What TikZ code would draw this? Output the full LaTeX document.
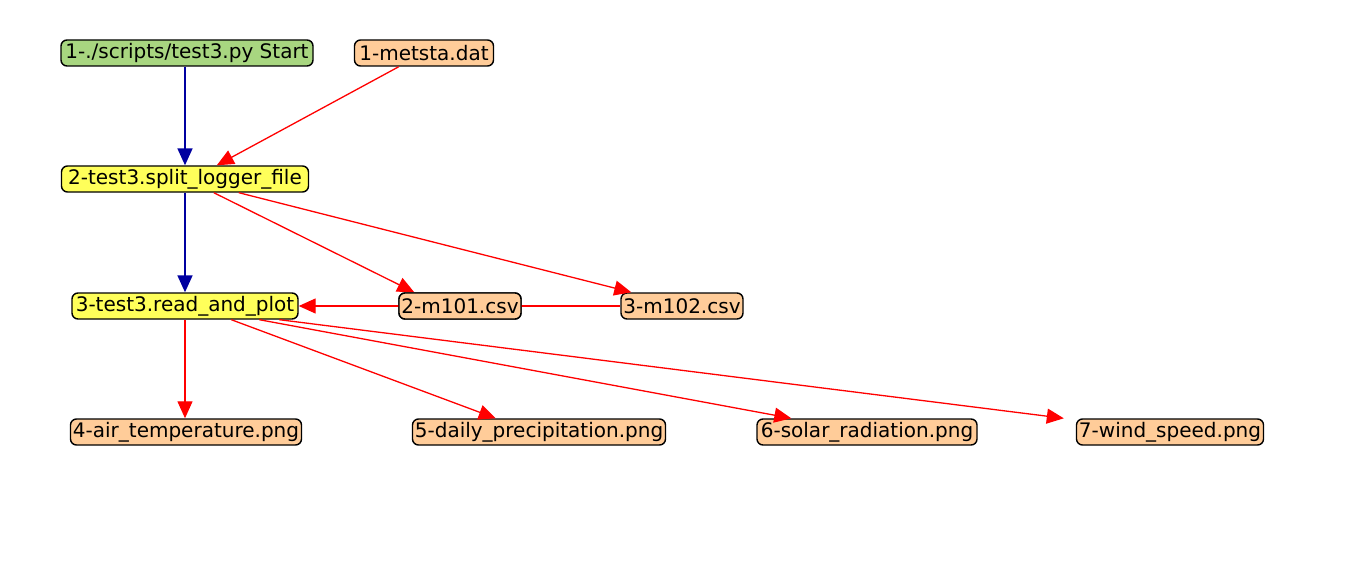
\documentclass[tikz,border=0pt]{standalone}
\usepackage{fontspec}
\setmainfont{DejaVu Sans}
\usetikzlibrary{arrows.meta,calc}
\definecolor{startgreen}{RGB}{168,214,128}
\definecolor{taskyellow}{RGB}{255,255,90}
\definecolor{filepeach}{RGB}{255,204,153}
\definecolor{flowblue}{RGB}{0,0,160}
\tikzset{
  box/.style={draw=black,line width=1.4pt,rounded corners=6pt,minimum height=26pt,
    inner sep=0pt,font=\fontsize{20}{22}\selectfont},
  startbox/.style={box,fill=startgreen},
  taskbox/.style={box,fill=taskyellow},
  filebox/.style={box,fill=filepeach},
  flow/.style={draw=flowblue,line width=1.8pt,-{Triangle[length=17pt,width=15pt]}},
  data/.style={draw=red,line width=1.3pt,-{Triangle[length=17pt,width=15pt]}}
}
\begin{document}
\begin{tikzpicture}[x=1pt,y=-1pt]
\useasboundingbox (0,0) rectangle (1356,564);

\node[startbox,minimum width=252pt] (start) at (187,53) {1-./scripts/test3.py Start};
\node[filebox,minimum width=139pt] (metsta) at (424,53) {1-metsta.dat};
\node[taskbox,minimum width=247pt] (split) at (185,179) {2-test3.split\_logger\_file};
\node[taskbox,minimum width=226pt] (readplot) at (185,306) {3-test3.read\_and\_plot};
\node[filebox,minimum width=122pt] (mOne) at (460,306) {2-m101.csv};
\node[filebox,minimum width=122pt] (mTwo) at (682,306) {3-m102.csv};
\node[filebox,minimum width=231pt] (airtemp) at (186,432) {4-air\_temperature.png};
\node[filebox,minimum width=253pt] (precip) at (539,432) {5-daily\_precipitation.png};
\node[filebox,minimum width=220pt] (solar) at (867,432) {6-solar\_radiation.png};
\node[filebox,minimum width=187pt] (wind) at (1170,432) {7-wind\_speed.png};

\draw[flow] (start.south -| split) -- (split);
\draw[flow] (split) -- (readplot);
\draw[data] ([xshift=45pt]metsta.south west) -- ([xshift=156pt]split.north west);
\draw[data] ([xshift=153pt]split.south west) -- ([xshift=16pt]mOne.north west);
\draw[data] ([xshift=178pt]split.south west) -- ([xshift=11pt]mTwo.north west);
\draw[data] (mTwo) -- (readplot);
\node[filebox,minimum width=122pt] at (mOne) {2-m101.csv};
\draw[data] (readplot) -- (readplot |- airtemp.north);
\draw[data] ([xshift=160pt]readplot.south west) -- ([xshift=84pt]precip.north west);
\draw[data] ([xshift=188pt]readplot.south west) -- ([xshift=35pt]solar.north west);
\draw[data] ([xshift=208pt]readplot.south west) -- ([xshift=-12pt]wind.north west);
\end{tikzpicture}
\end{document}
